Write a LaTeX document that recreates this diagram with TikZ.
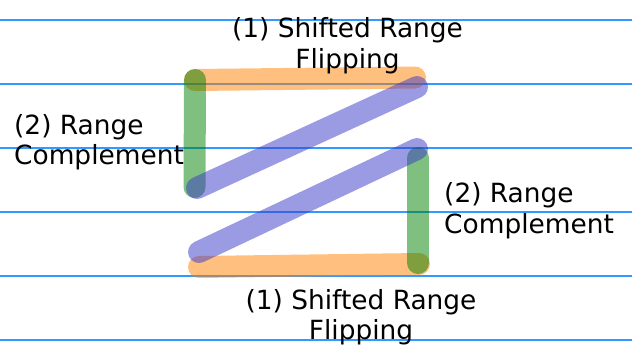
\documentclass[tikz,border=0pt]{standalone}
\usepackage{fontspec}
\setmainfont{DejaVu Sans}
\definecolor{flipcolor}{HTML}{FF7F00}
\definecolor{complcolor}{HTML}{008000}
\definecolor{swapcolor}{HTML}{3838C8}
\definecolor{guidecolor}{HTML}{3399FF}
\tikzset{
  stroke/.style={line width=22pt, line cap=round, opacity=0.5},
  flip/.style={stroke, draw=flipcolor},
  compl/.style={stroke, draw=complcolor},
  swap/.style={stroke, draw=swapcolor},
  guide/.style={draw=guidecolor, line width=1.3pt},
  steplabel/.style={font=\fontsize{26.4}{30.5}\selectfont, inner sep=0pt, text=black}
}
\begin{document}
\begin{tikzpicture}[x=1pt, y=-1pt]
\useasboundingbox (0,0) rectangle (632,346);

% guide lines
\foreach \y in {20,84,148,212,276,340} {
  \draw[guide] (0,\y) -- (632,\y);
}

% corner points
\coordinate (tl) at (195,80);
\coordinate (tr) at (415,77.5);
\coordinate (ml) at (194.5,187);
\coordinate (d1a) at (197,188);
\coordinate (d1b) at (417,87);
\coordinate (d2a) at (199,252);
\coordinate (d2b) at (417,149);
\coordinate (mr) at (418,158);
\coordinate (br) at (418,263);
\coordinate (bl) at (199,267);
\coordinate (brr) at (419,264);

\draw[flip] (tl) -- (tr);
\draw[flip] (bl) -- (brr);
\draw[compl] (tl) -- (ml);
\draw[compl] (mr) -- (br);
\draw[swap] (d1a) -- (d1b);
\draw[swap] (d2a) -- (d2b);

% labels
\node[steplabel, align=center] (fliptop) at (347.5,45.5) {(1) Shifted Range\\Flipping};
\node[steplabel, align=left, anchor=west] (compleft) at (14,142) {(2) Range\\Complement};
\node[steplabel, align=left, anchor=west] (compright) at (444,210.5) {(2) Range\\Complement};
\node[steplabel, align=center] (flipbot) at (361,317) {(1) Shifted Range\\Flipping};

\end{tikzpicture}
\end{document}
